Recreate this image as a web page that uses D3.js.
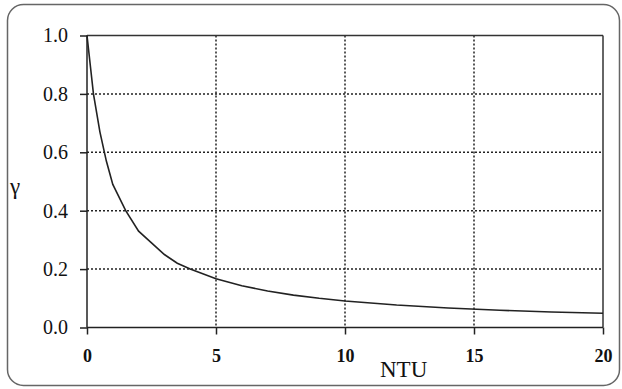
<!DOCTYPE html>
<html>
<head>
<meta charset="utf-8">
<script src="https://cdn.jsdelivr.net/npm/d3@7"></script>
<style>
  body { margin: 0; background: #fff; }
  svg { display: block; }
</style>
</head>
<body>
<script>
// values
var ntu = [0, 0.25, 0.5, 0.75, 1, 1.5, 2, 2.5, 3, 3.5, 4, 5, 6, 7, 8, 9, 10, 12, 14, 16, 18, 20];
var gamma = [1.0, 0.80, 0.67, 0.57, 0.49, 0.40, 0.33, 0.29, 0.25, 0.22, 0.20, 0.167, 0.143, 0.125, 0.111, 0.10, 0.091, 0.077, 0.067, 0.059, 0.053, 0.049];
var xTicks = [0, 5, 10, 15, 20];
var yTicks = [0.0, 0.2, 0.4, 0.6, 0.8, 1.0];

var width = 622, height = 389;
var plotLeft = 87, plotRight = 603, plotTop = 35.5, plotBottom = 327.5;

var svg = d3.select("body").append("svg")
    .attr("width", width)
    .attr("height", height);

svg.append("rect")
    .attr("x", 7.5).attr("y", 4.5)
    .attr("width", 612).attr("height", 381)
    .attr("rx", 16).attr("ry", 16)
    .attr("fill", "#fff")
    .attr("stroke", "#666")
    .attr("stroke-width", 1.5);

var x = d3.scaleLinear().domain([0, 20]).range([plotLeft, plotRight]);
var y = d3.scaleLinear().domain([0, 1]).range([plotBottom, plotTop]);

// dotted grid
svg.append("g").selectAll("line").data(xTicks.slice(1, -1)).enter().append("line")
    .attr("x1", function (d) { return x(d); }).attr("x2", function (d) { return x(d); })
    .attr("y1", y(1)).attr("y2", y(0))
    .attr("stroke", "#222").attr("stroke-width", 1.5)
    .attr("stroke-dasharray", "2,2");

svg.append("g").selectAll("line").data(yTicks.slice(1, -1)).enter().append("line")
    .attr("x1", x(0)).attr("x2", x(20))
    .attr("y1", function (d) { return y(d); }).attr("y2", function (d) { return y(d); })
    .attr("stroke", "#222").attr("stroke-width", 1.5)
    .attr("stroke-dasharray", "2,2");

// frame top and right
svg.append("line").attr("x1", x(0)).attr("x2", x(20)).attr("y1", y(1)).attr("y2", y(1))
    .attr("stroke", "#333").attr("stroke-width", 1.5);
svg.append("line").attr("x1", x(20)).attr("x2", x(20)).attr("y1", y(1)).attr("y2", y(0))
    .attr("stroke", "#333").attr("stroke-width", 1.5);

// axes
var xAxis = svg.append("g")
    .attr("transform", "translate(0," + plotBottom + ")")
    .call(d3.axisBottom(x).tickValues(xTicks).tickSize(7).tickPadding(15)
        .tickFormat(d3.format("d")));
xAxis.selectAll("text")
    .attr("font-family", "'Liberation Serif', serif")
    .attr("font-weight", "bold")
    .attr("font-size", 18)
    .attr("fill", "#111");

var yAxis = svg.append("g")
    .attr("transform", "translate(" + plotLeft + ",0)")
    .call(d3.axisLeft(y).tickValues(yTicks).tickSize(7).tickPadding(12)
        .tickFormat(d3.format(".1f")));
yAxis.selectAll("text")
    .attr("font-family", "'Liberation Serif', serif")
    .attr("font-size", 20)
    .attr("fill", "#111");

svg.selectAll(".domain").attr("stroke", "#222").attr("stroke-width", 1.5);
svg.selectAll(".tick line").attr("stroke", "#222").attr("stroke-width", 1.5);
xAxis.select(".domain").attr("d", "M" + plotLeft + ",0H" + plotRight);
yAxis.select(".domain").attr("d", "M0," + plotTop + "V" + plotBottom);

// curve
var line = d3.line()
    .x(function (d, i) { return x(ntu[i]); })
    .y(function (d) { return y(d); });

svg.append("path")
    .datum(gamma)
    .attr("d", line)
    .attr("fill", "none")
    .attr("stroke", "#222")
    .attr("stroke-width", 1.6);

// axis titles
svg.append("text")
    .attr("x", 380).attr("y", 377)
    .attr("font-family", "'Liberation Serif', serif")
    .attr("font-size", 23)
    .attr("fill", "#111")
    .text("NTU");

svg.append("text")
    .attr("x", 10).attr("y", 194)
    .attr("font-family", "'Liberation Serif', serif")
    .attr("font-size", 23)
    .attr("fill", "#111")
    .text("γ");
</script>
</body>
</html>
